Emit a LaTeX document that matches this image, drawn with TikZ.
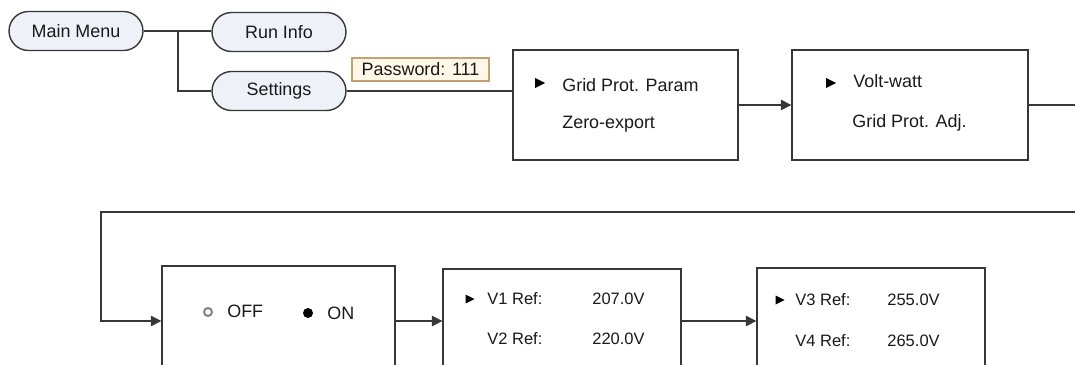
\documentclass[tikz,border=0pt]{standalone}
\usepackage{fontspec}
\setmainfont{Liberation Sans}
\usetikzlibrary{arrows.meta, calc}
\definecolor{pillfill}{RGB}{238,241,248}
\definecolor{pwfill}{RGB}{255,247,232}
\definecolor{pwline}{RGB}{196,160,112}
\definecolor{lineg}{RGB}{55,55,55}
\tikzset{
  pill/.style  ={draw=lineg, line width=0.8pt, fill=pillfill, rounded corners=0.39cm,
                 minimum height=0.78cm, minimum width=2.68cm, inner sep=0pt,
                 font=\fontsize{10.2}{12}\selectfont, text=black!90},
  box/.style   ={draw=lineg, line width=0.8pt, minimum height=2.2cm, inner sep=0pt},
  txt/.style   ={anchor=base west, inner sep=0pt, text=black!90,
                 font=\fontsize{10.2}{12}\selectfont},
  smalltxt/.style={txt, font=\fontsize{9.4}{11}\selectfont},
  tag/.style   ={draw=pwline, fill=pwfill, line width=0.8pt, inner sep=0pt,
                 minimum width=2.74cm, minimum height=0.46cm,
                 font=\fontsize{10.2}{12}\selectfont, text=black!90},
  conn/.style  ={draw=lineg, line width=0.8pt},
  arr/.style   ={conn, -{Triangle[length=6pt, width=6pt]}},
}
% small filled pointer in front of the selected line
\newcommand{\cursorat}[3]{\fill[black] (#1-#3,#2-#3) -- (#1+#3,#2) -- (#1-#3,#2+#3) -- cycle;}

\begin{document}
\begin{tikzpicture}[x=0.02cm, y=-0.02cm]
  \useasboundingbox (0,0) rectangle (1075,365);
  \clip (0,0) rectangle (1075,365);

  % menu tree
  \node[pill] (main) at (76,31)  {Main Menu};
  \node[pill] (run)  at (279,32) {Run Info};
  \node[pill] (sett) at (279,91) {Settings};
  \coordinate (jn) at (178,31);

  \draw[conn] (main.east) -- (main.east -| run.west);
  \draw[conn] (jn) |- (sett.west);

  % upper row of screens
  \node[box, minimum width=4.5cm]  (grid) at (625.5,105) {};
  \node[box, minimum width=4.72cm] (volt) at (910,105)   {};
  \node[tag] (pw) at (420.5,69.5) {Password: 111};

  \draw[conn] (sett.east) -- (sett.east -| grid.west);
  \draw[arr]  (grid.east) -- (volt.west);

  \cursorat{540}{83}{5}
  \node[txt] (gpp)  at (562,91)  {Grid Prot. Param};
  \node[txt] (zexp) at (562,128) {Zero-export};
  \cursorat{831}{83}{5}
  \node[txt] (vw)   at (853,87)  {Volt-watt};
  \node[txt] (gpa)  at (852,127) {Grid Prot. Adj.};

  % lower row of screens
  \node[box, minimum width=4.66cm] (onoff) at (278.5,321) {};
  \node[box, minimum width=4.76cm] (vlow)  at (562,324)   {};
  \node[box, minimum width=4.56cm] (vhigh) at (871,323)   {};

  \coordinate (rt) at (1095,212);
  \coordinate (lt) at (101,212);
  \draw[arr] (volt.east) -| (rt) -- (lt) |- (onoff.west);
  \draw[arr] (onoff.east) -- (onoff.east -| vlow.west);
  \draw[arr] (onoff.east -| vlow.east) -- (onoff.east -| vhigh.west);

  \draw[gray, line width=1.1pt] (208,312) circle (4);
  \node[txt] (off) at (227,317) {OFF};
  \fill[black] (308,313) circle (5);
  \node[txt] (on)  at (327,319) {ON};

  \cursorat{470}{299}{4.5}
  \node[smalltxt] (v1)  at (487,304) {V1 Ref:};
  \node[smalltxt] (v1v) at (592,304) {207.0V};
  \node[smalltxt] (v2)  at (487,344) {V2 Ref:};
  \node[smalltxt] (v2v) at (592,344) {220.0V};

  \cursorat{780}{300}{4.5}
  \node[smalltxt] (v3)  at (795,305) {V3 Ref:};
  \node[smalltxt] (v3v) at (887,305) {255.0V};
  \node[smalltxt] (v4)  at (795,346) {V4 Ref:};
  \node[smalltxt] (v4v) at (887,346) {265.0V};
\end{tikzpicture}
\end{document}
